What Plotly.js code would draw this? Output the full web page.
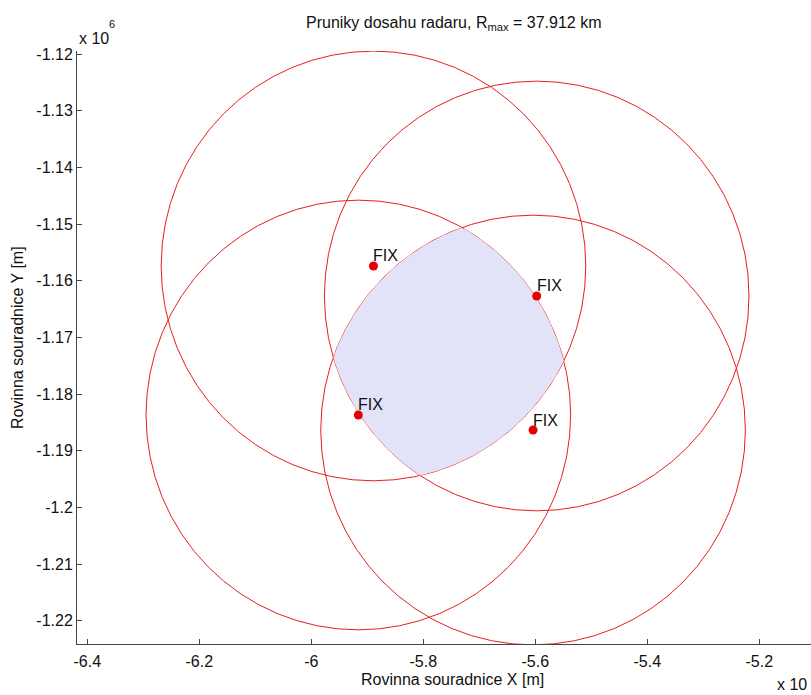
<!DOCTYPE html>
<html><head><meta charset="utf-8">
<script src="https://cdn.plot.ly/plotly-3.0.1.min.js"></script>
<style>html,body{margin:0;padding:0;background:#fff}</style>
</head><body><div id="chart" style="width:811px;height:695px"></div>
<script>
// ---- data ----
const fixLabels = ['FIX', 'FIX', 'FIX', 'FIX'];
const fixX = [-588900, -559750, -591600, -560400];
const fixY = [-1157400, -1162700, -1183700, -1186350];
const radiusM = 37912;
const titleText = 'Pruniky dosahu radaru, R<sub>max</sub> = 37.912 km';
const xTitle = 'Rovinna souradnice X [m]';
const yTitle = 'Rovinna souradnice Y [m]';
const xTickVals = [-640000, -620000, -600000, -580000, -560000, -540000, -520000];
const xTickText = ['-6.4', '-6.2', '-6', '-5.8', '-5.6', '-5.4', '-5.2'];
const yTickVals = [-1120000, -1130000, -1140000, -1150000, -1160000, -1170000, -1180000, -1190000, -1200000, -1210000, -1220000];
const yTickText = ['-1.12', '-1.13', '-1.14', '-1.15', '-1.16', '-1.17', '-1.18', '-1.19', '-1.2', '-1.21', '-1.22'];
const xRange = [-641839, -510768];
const yRange = [-1224110, -1119470];

// ---- layout geometry ----
const W = 811, H = 695, ML = 77, MR = 0, MT = 51, MB = 51;
const PW = W - ML - MR, PH = H - MT - MB;
const px2x = p => (p - ML) / PW;
const py2y = p => (H - MB - p) / PH;

const FONT = 'Liberation Sans, Arial, sans-serif';
const RED = 'rgb(232,30,30)';

// ---- intersection of all discs (boundary built from the circles) ----
function intersectionPolygon() {
  const pts = [];
  const N = 1440;
  for (let i = 0; i < fixX.length; i++) {
    for (let k = 0; k < N; k++) {
      const a = 2 * Math.PI * k / N;
      const x = fixX[i] + radiusM * Math.cos(a);
      const y = fixY[i] + radiusM * Math.sin(a);
      let inside = true;
      for (let j = 0; j < fixX.length; j++) {
        if (j === i) continue;
        const d = Math.hypot(x - fixX[j], y - fixY[j]);
        if (d > radiusM + 1e-6) { inside = false; break; }
      }
      if (inside) pts.push([x, y]);
    }
  }
  const cx = pts.reduce((s, p) => s + p[0], 0) / pts.length;
  const cy = pts.reduce((s, p) => s + p[1], 0) / pts.length;
  pts.sort((p, q) => Math.atan2(p[1] - cy, p[0] - cx) - Math.atan2(q[1] - cy, q[0] - cx));
  pts.push(pts[0]);
  return {x: pts.map(p => p[0]), y: pts.map(p => p[1])};
}
const poly = intersectionPolygon();

const traces = [
  {
    type: 'scatter', mode: 'lines', x: poly.x, y: poly.y,
    fill: 'toself', fillcolor: 'rgb(226,226,249)',
    line: {width: 0, color: 'rgba(0,0,0,0)'}, hoverinfo: 'skip', showlegend: false
  },
  {
    type: 'scatter', mode: 'markers', x: fixX, y: fixY,
    marker: {color: 'rgb(230,0,0)', size: 9}, hoverinfo: 'skip', showlegend: false
  }
];

const shapes = fixX.map((cx, i) => ({
  type: 'circle', xref: 'x', yref: 'y', layer: 'below',
  x0: cx - radiusM, x1: cx + radiusM, y0: fixY[i] - radiusM, y1: fixY[i] + radiusM,
  line: {color: RED, width: 1}, fillcolor: 'rgba(0,0,0,0)'
}));

const annotations = fixX.map((x, i) => ({
  x: x, y: fixY[i], xref: 'x', yref: 'y', text: fixLabels[i], showarrow: false,
  xanchor: 'left', yanchor: 'middle', xshift: -2, yshift: 10,
  font: {family: FONT, size: 16, color: '#111'}
}));

annotations.push(
  {xref: 'paper', yref: 'paper', x: px2x(454), y: py2y(24), text: titleText, showarrow: false,
   xanchor: 'center', yanchor: 'middle', font: {family: FONT, size: 16, color: '#111'}},
  {xref: 'paper', yref: 'paper', x: px2x(452), y: py2y(679), text: xTitle, showarrow: false,
   xanchor: 'center', yanchor: 'middle', font: {family: FONT, size: 16, color: '#111'}},
  {xref: 'paper', yref: 'paper', x: px2x(18), y: py2y(338), text: yTitle, showarrow: false, textangle: -90,
   xanchor: 'center', yanchor: 'middle', font: {family: FONT, size: 16, color: '#111'}},
  {xref: 'paper', yref: 'paper', x: px2x(77), y: py2y(39), text: 'x 10', showarrow: false,
   xanchor: 'left', yanchor: 'middle', font: {family: FONT, size: 16, color: '#111'}},
  {xref: 'paper', yref: 'paper', x: px2x(107), y: py2y(24), text: '6', showarrow: false,
   xanchor: 'left', yanchor: 'middle', font: {family: FONT, size: 11, color: '#111'}},
  {xref: 'paper', yref: 'paper', x: px2x(775), y: py2y(685), text: 'x 10', showarrow: false,
   xanchor: 'left', yanchor: 'middle', font: {family: FONT, size: 16, color: '#111'}}
);

const axisCommon = {
  showgrid: false, zeroline: false, showline: true, mirror: false,
  linecolor: '#444', linewidth: 1, ticks: 'inside', ticklen: 5, tickcolor: '#444', tickwidth: 1,
  tickmode: 'array', tickfont: {family: FONT, size: 16, color: '#111'}, fixedrange: true
};

const layout = {
  width: W, height: H,
  margin: {l: ML, r: MR, t: MT, b: MB, pad: 0},
  paper_bgcolor: '#fff', plot_bgcolor: '#fff',
  showlegend: false,
  xaxis: Object.assign({}, axisCommon, {range: xRange, tickvals: xTickVals, ticktext: xTickText, ticklabelstandoff: 3}),
  yaxis: Object.assign({}, axisCommon, {range: yRange, tickvals: yTickVals, ticktext: yTickText}),
  shapes: shapes,
  annotations: annotations
};

Plotly.newPlot('chart', traces, layout, {displayModeBar: false, staticPlot: true});
</script>
</body></html>
